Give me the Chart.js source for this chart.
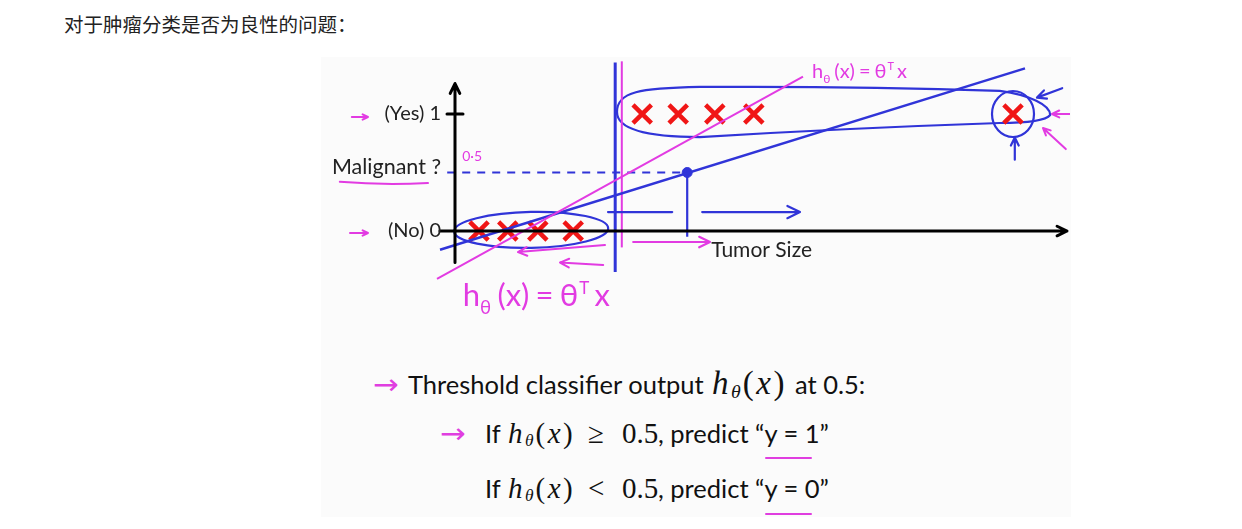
<!DOCTYPE html>
<html>
<head>
<meta charset="utf-8">
<script src="https://cdn.jsdelivr.net/npm/chart.js@4.4.1/dist/chart.umd.min.js"></script>
<style>
html, body { margin: 0; padding: 0; background: #fff; }
body { width: 1242px; height: 529px; position: relative; overflow: hidden; font-family: Lato, "Noto Sans", sans-serif; }
#title { position: absolute; left: 64px; top: 10px; font-family: "Noto Sans CJK SC"; font-size: 19.5px; color: #222; line-height: 28px; }
#slide { position: absolute; left: 321px; top: 57px; width: 750px; height: 460px; background: #fbfbfb; }
#chart { position: absolute; left: 322px; top: 57px; }
.txt { position: absolute; font-family: Lato; color: #111; white-space: nowrap; line-height: 30px; }
.txt span { display: inline-block; }
.l1 { font-size: 25.5px; }
.l2 { font-size: 25.5px; }
.m { font-family: "Liberation Serif", serif; font-style: italic; letter-spacing: 2.5px; }
.m i { font-style: normal; }
.m sub { font-size: 0.6em; line-height: 0; vertical-align: -0.2em; letter-spacing: 0; margin-right: 2px; }
.n { font-family: "Liberation Serif", serif; font-size: 29px; }
.arr { color: #e03ee0; font-family: "DejaVu Sans"; font-size: 28px; transform: scaleX(1.1); transform-origin: left center; }
.ul { position: absolute; height: 2px; background: #e03ee0; border-radius: 2px; }
</style>
</head>
<body>
<div id="title">对于肿瘤分类是否为良性的问题：</div>
<div id="slide"></div>
<canvas id="chart" width="748" height="290"></canvas>

<div class="txt l1" style="left:373px; top:368px;"><span class="arr" style="width:35px">→</span><span style="width:304px">Threshold classifier output</span><span class="m" style="width:83px; font-size:33px">h<sub>θ</sub><i>(</i>x<i>)</i></span><span>at 0.5:</span></div>
<div class="txt l2" style="left:440px; top:418px;"><span class="arr" style="width:45px">→</span><span style="width:23px">If</span><span class="m" style="width:80px; font-size:29px">h<sub>θ</sub><i>(</i>x<i>)</i></span><span class="n" style="width:34px">≥</span><span class="n" style="width:36px">0.5</span><span>, predict “y = 1”</span></div>
<div class="txt l2" style="left:485px; top:473px;"><span style="width:23px">If</span><span class="m" style="width:80px; font-size:29px">h<sub>θ</sub><i>(</i>x<i>)</i></span><span class="n" style="width:34px">&lt;</span><span class="n" style="width:36px">0.5</span><span>, predict “y = 0”</span></div>
<div class="ul" style="left:765px; top:457px; width:47px;"></div>
<div class="ul" style="left:765px; top:513px; width:47px;"></div>

<script>
// 数据（肿瘤大小 / 是否恶性）
const negSize = [0.40, 0.88, 1.38, 1.97];
const negLabel = [0, 0, 0, 0];
const posSize = [3.12, 3.72, 4.33, 4.98, 9.30];
const posLabel = [1, 1, 1, 1, 1];

// 两条线性拟合 h(x) = θᵀx
const fitPinkX = [-0.30, 5.80];
const fitPinkY = [-0.41, 1.32];
const fitBlueX = [-0.25, 9.50];
const fitBlueY = [-0.16, 1.39];

// 阈值 0.5 以及对应的肿瘤大小
const threshold = 0.5;
const cutSize = 3.87;

// 坐标轴标签
const yTickValues = [1, 0.5, 0];
const yTickLabels = ['(Yes) 1', 'Malignant ?', '(No) 0'];
const xAxisTitle = 'Tumor Size';

const BLUE = '#3034d8';
const PINK = '#e23be2';
const RED = '#f01616';

function pts(xs, ys) {
    return xs.map((x, i) => ({ x: x, y: ys[i] }));
}

function lineSet(data, color, width, extra) {
    return Object.assign({
        data: data,
        showLine: true,
        borderColor: color,
        borderWidth: width,
        pointRadius: 0,
        fill: false,
        tension: 0
    }, extra || {});
}

// 手绘风格的注释
const annotate = {
    id: 'annotate',
    beforeDatasetsDraw(chart) {
        const c = chart.ctx;
        const sx = chart.scales.x, sy = chart.scales.y;
        const px = v => sx.getPixelForValue(v);
        const py = v => sy.getPixelForValue(v);
        c.save();
        c.lineCap = 'round';
        c.lineJoin = 'round';
        c.strokeStyle = BLUE;
        c.lineWidth = 2.2;
        // 负样本圈
        c.beginPath();
        c.ellipse(px(1.27), py(0.01), 77, 18, -0.02, 0, Math.PI * 2);
        c.stroke();
        // 正样本圈（右端收窄）
        c.beginPath();
        c.moveTo(px(2.7), py(1.017));
        c.bezierCurveTo(px(2.7), py(1.19), px(3.08), py(1.222), px(4.08), py(1.231));
        c.quadraticCurveTo(px(6.6), py(1.24), px(9.08), py(1.197));
        c.bezierCurveTo(px(9.58), py(1.162), px(9.92), py(1.077), px(9.92), py(0.991));
        c.bezierCurveTo(px(9.83), py(0.932), px(9.42), py(0.923), px(9.08), py(0.923));
        c.quadraticCurveTo(px(6.58), py(0.88), px(4.08), py(0.803));
        c.bezierCurveTo(px(3.25), py(0.803), px(2.7), py(0.863), px(2.7), py(1.017));
        c.stroke();
        // 离群点圈
        c.beginPath();
        c.ellipse(px(posSize[4]), py(1.0), 21, 23, 0, 0, Math.PI * 2);
        c.stroke();
        c.restore();
    },
    afterDatasetsDraw(chart) {
        const c = chart.ctx;
        const sx = chart.scales.x, sy = chart.scales.y;
        const px = v => sx.getPixelForValue(v);
        const py = v => sy.getPixelForValue(v);
        c.save();
        c.lineCap = 'round';
        c.lineJoin = 'round';

        function arrow(x1, y1, x2, y2, color, w, head) {
            const a = Math.atan2(y2 - y1, x2 - x1);
            c.strokeStyle = color;
            c.lineWidth = w;
            c.beginPath();
            c.moveTo(x1, y1);
            c.lineTo(x2, y2);
            c.moveTo(x2 - head * Math.cos(a - 0.45), y2 - head * Math.sin(a - 0.45));
            c.lineTo(x2, y2);
            c.lineTo(x2 - head * Math.cos(a + 0.45), y2 - head * Math.sin(a + 0.45));
            c.stroke();
        }

        // 坐标轴箭头
        const ox = px(0), oy = py(0);
        arrow(ox, py(-0.27), ox, py(1.26), '#000', 3, 11);
        arrow(px(-0.25), oy, px(10.2), oy, '#000', 3, 11);
        // y=1 刻度
        c.strokeStyle = '#000';
        c.lineWidth = 3;
        c.beginPath();
        c.moveTo(ox - 8, py(1));
        c.lineTo(ox + 8, py(1));
        c.stroke();

        // y 轴标签
        c.fillStyle = '#222';
        c.textAlign = 'right';
        c.textBaseline = 'middle';
        yTickLabels.forEach((lab, i) => {
            const big = yTickValues[i] === threshold;
            c.font = big ? '21.5px Lato' : '20px Lato';
            c.fillText(lab, ox - 14, py(yTickValues[i]) - (big ? 5 : 0));
        });

        // x 轴标题
        c.textAlign = 'left';
        c.font = '21px Lato';
        c.fillText(xAxisTitle, px(4.27), oy + 19);

        // 蓝色箭头与短线
        c.strokeStyle = BLUE;
        c.lineWidth = 2.2;
        c.beginPath();
        c.moveTo(px(2.55), py(0.162));
        c.lineTo(px(3.62), py(0.162));
        c.stroke();
        arrow(px(4.12), py(0.162), px(5.75), py(0.162), BLUE, 2.2, 14);
        arrow(px(9.33), py(0.61), px(9.33), py(0.8), BLUE, 2.2, 9);
        arrow(px(10.12), py(1.22), px(9.7), py(1.14), BLUE, 2.2, 10);

        // 粉色箭头
        arrow(px(2.97), py(-0.094), px(4.25), py(-0.094), PINK, 2.2, 12);
        arrow(px(2.5), py(-0.12), px(1.05), py(-0.18), PINK, 2, 10);
        arrow(px(2.47), py(-0.29), px(1.75), py(-0.27), PINK, 2, 10);
        arrow(px(10.25), py(1.0), px(9.95), py(1.0), PINK, 2, 8);
        arrow(px(10.18), py(0.7), px(9.8), py(0.88), PINK, 2, 8);
        arrow(px(-1.72), py(1.0) + 3, px(-1.45), py(1.0) + 3, PINK, 2, 6);
        arrow(px(-1.75), py(0.0) + 2, px(-1.45), py(0.0) + 2, PINK, 2, 6);

        // Malignant 下划线
        c.strokeStyle = PINK;
        c.lineWidth = 2;
        c.beginPath();
        c.moveTo(px(-1.92), py(0.42));
        c.quadraticCurveTo(px(-1.2), py(0.39), px(-0.45), py(0.41));
        c.stroke();

        // 手写的文字
        c.fillStyle = PINK;
        c.textAlign = 'left';
        c.textBaseline = 'alphabetic';
        c.font = '14px Lato';
        c.fillText('0·5', px(0.12), py(0.6));

        function hText(x, y, s) {
            const gap = s * 0.2;
            c.font = s + 'px Lato';
            c.fillText('h', x, y);
            let w = c.measureText('h').width;
            c.font = (s * 0.6) + 'px Lato';
            c.fillText('θ', x + w, y + s * 0.25);
            w += c.measureText('θ').width + gap;
            c.font = s + 'px Lato';
            c.fillText('(x)', x + w, y);
            w += c.measureText('(x)').width + gap;
            c.fillText('=', x + w, y);
            w += c.measureText('=').width + gap;
            c.fillText('θ', x + w, y);
            w += c.measureText('θ').width;
            c.font = (s * 0.55) + 'px Lato';
            c.fillText('T', x + w + 1, y - s * 0.4);
            w += c.measureText('T').width + gap;
            c.font = s + 'px Lato';
            c.fillText('x', x + w, y);
        }
        hText(px(0.13), py(-0.64), 31);
        hText(px(5.95), py(1.31), 20);
        c.restore();
    }
};

new Chart(document.getElementById('chart').getContext('2d'), {
    type: 'scatter',
    data: {
        datasets: [
            lineSet(pts(fitPinkX, fitPinkY), PINK, 2),
            lineSet(pts(fitBlueX, fitBlueY), BLUE, 2.4),
            lineSet(pts([-0.13, cutSize], [threshold, threshold]), BLUE, 2, { borderDash: [8, 7] }),
            lineSet(pts([cutSize, cutSize], [threshold, -0.05]), BLUE, 2.2),
            lineSet(pts([2.78, 2.78], [-0.14, 1.45]), PINK, 2),
            lineSet(pts([2.67, 2.67], [-0.35, 1.44]), BLUE, 3),
            {
                data: pts([cutSize], [threshold]),
                pointRadius: 5,
                pointBackgroundColor: BLUE,
                pointBorderColor: BLUE
            },
            {
                data: pts(negSize, negLabel),
                pointStyle: 'crossRot',
                pointRadius: 13,
                pointBorderWidth: 4.5,
                pointBorderColor: RED
            },
            {
                data: pts(posSize, posLabel),
                pointStyle: 'crossRot',
                pointRadius: 13,
                pointBorderWidth: 4.5,
                pointBorderColor: RED
            }
        ]
    },
    options: {
        responsive: false,
        animation: false,
        events: [],
        layout: { autoPadding: false, padding: { left: 108, top: 0, right: 0, bottom: 46 } },
        plugins: {
            legend: { display: false },
            tooltip: { enabled: false }
        },
        scales: {
            x: { type: 'linear', min: -0.4167, max: 10.25, display: false },
            y: { type: 'linear', min: -0.598, max: 1.487, display: false }
        }
    },
    plugins: [annotate]
});
</script>
</body>
</html>
